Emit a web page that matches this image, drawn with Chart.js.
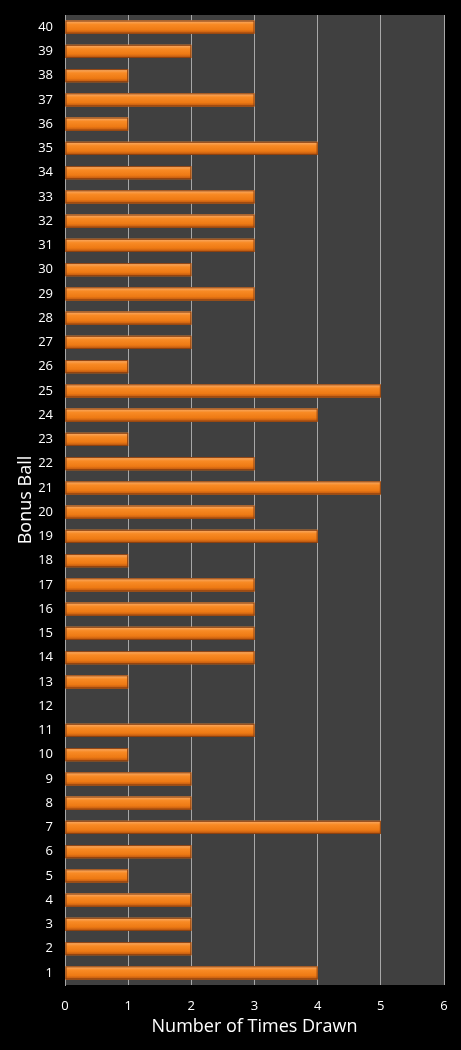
<!DOCTYPE html>
<html>
<head>
<meta charset="utf-8">
<script src="https://cdn.jsdelivr.net/npm/chart.js@4/dist/chart.umd.min.js"></script>
<style>
  html, body { margin: 0; padding: 0; background: #000; }
  #wrap { width: 461px; height: 1050px; }
</style>
</head>
<body>
<div id="wrap"><canvas id="myChart1"></canvas></div>
<script>
// bonus ball draw counts, ball 1 up to 40
const balls = [];
for (let i = 1; i <= 40; i++) balls.push(String(i));
const timesDrawn = [4, 2, 2, 2, 1, 2, 5, 2, 2, 1,
                    3, 0, 1, 3, 3, 3, 3, 1, 4, 3,
                    5, 3, 1, 4, 5, 1, 2, 2, 3, 2,
                    3, 3, 3, 2, 4, 1, 3, 1, 2, 3];
const xTicks = [0, 1, 2, 3, 4, 5, 6];

// dark plot background
const plotBg = {
  id: 'plotBg',
  beforeDraw(chart) {
    const a = chart.chartArea, c = chart.ctx;
    c.save();
    c.fillStyle = '#404040';
    c.fillRect(a.left, a.top, a.right - a.left, a.bottom - a.top);
    c.restore();
  }
};

// shiny bevel on each bar
const barShine = {
  id: 'barShine',
  afterDatasetsDraw(chart) {
    const c = chart.ctx;
    chart.getDatasetMeta(0).data.forEach(function(bar) {
      const p = bar.getProps(['x', 'y', 'base', 'height'], true);
      const w = p.x - p.base;
      if (w <= 0) return;
      const top = p.y - p.height / 2;
      const g = c.createLinearGradient(0, top, 0, top + p.height);
      g.addColorStop(0, '#f9b070');
      g.addColorStop(0.3, '#f88a24');
      g.addColorStop(0.7, '#ee7a14');
      g.addColorStop(1, '#b45210');
      c.save();
      c.fillStyle = g;
      c.fillRect(p.base, top, w, p.height);
      c.strokeStyle = '#8a4010';
      c.lineWidth = 1;
      c.strokeRect(p.base + 0.5, top + 0.5, w - 1, p.height - 1);
      c.restore();
    });
  }
};

const ctx = document.getElementById('myChart1');
const myChart1 = new Chart(ctx, {
  type: 'bar',
  data: {
    labels: balls,
    datasets: [{
      data: timesDrawn,
      backgroundColor: '#ee7d1c',
      borderWidth: 0,
      barPercentage: 0.54,
      categoryPercentage: 1
    }]
  },
  plugins: [plotBg, barShine],
  options: {
    indexAxis: 'y',
    responsive: true,
    maintainAspectRatio: false,
    animation: false,
    devicePixelRatio: 1,
    layout: { padding: { top: 15, right: 17, left: 0, bottom: 0 } },
    plugins: { legend: { display: false }, tooltip: { enabled: false } },
    scales: {
      x: {
        min: 0,
        max: 6,
        afterBuildTicks(scale) { scale.ticks = xTicks.map(v => ({ value: v })); },
        afterFit(scale) { scale.height = 65; scale.paddingLeft = 0; scale.paddingRight = 0; },
        grid: { color: '#a8a8a8', lineWidth: 1, drawTicks: false },
        border: { display: false },
        ticks: { color: '#ffffff', padding: 13, font: { family: 'Open Sans', size: 13 } },
        title: {
          display: true,
          text: 'Number of Times Drawn',
          color: '#ffffff',
          padding: { top: 0, bottom: 12 },
          font: { family: 'Open Sans', size: 18 }
        }
      },
      y: {
        reverse: true,
        afterFit(scale) { scale.width = 65; scale.paddingTop = 0; scale.paddingBottom = 0; },
        grid: { display: false, drawTicks: false },
        border: { display: true, color: '#a8a8a8' },
        ticks: { color: '#ffffff', padding: 12, autoSkip: false, font: { family: 'Open Sans', size: 13 } },
        title: {
          display: true,
          text: 'Bonus Ball',
          color: '#ffffff',
          padding: { top: 15, bottom: 0 },
          font: { family: 'Open Sans', size: 18 }
        }
      }
    }
  }
});
</script>
</body>
</html>
